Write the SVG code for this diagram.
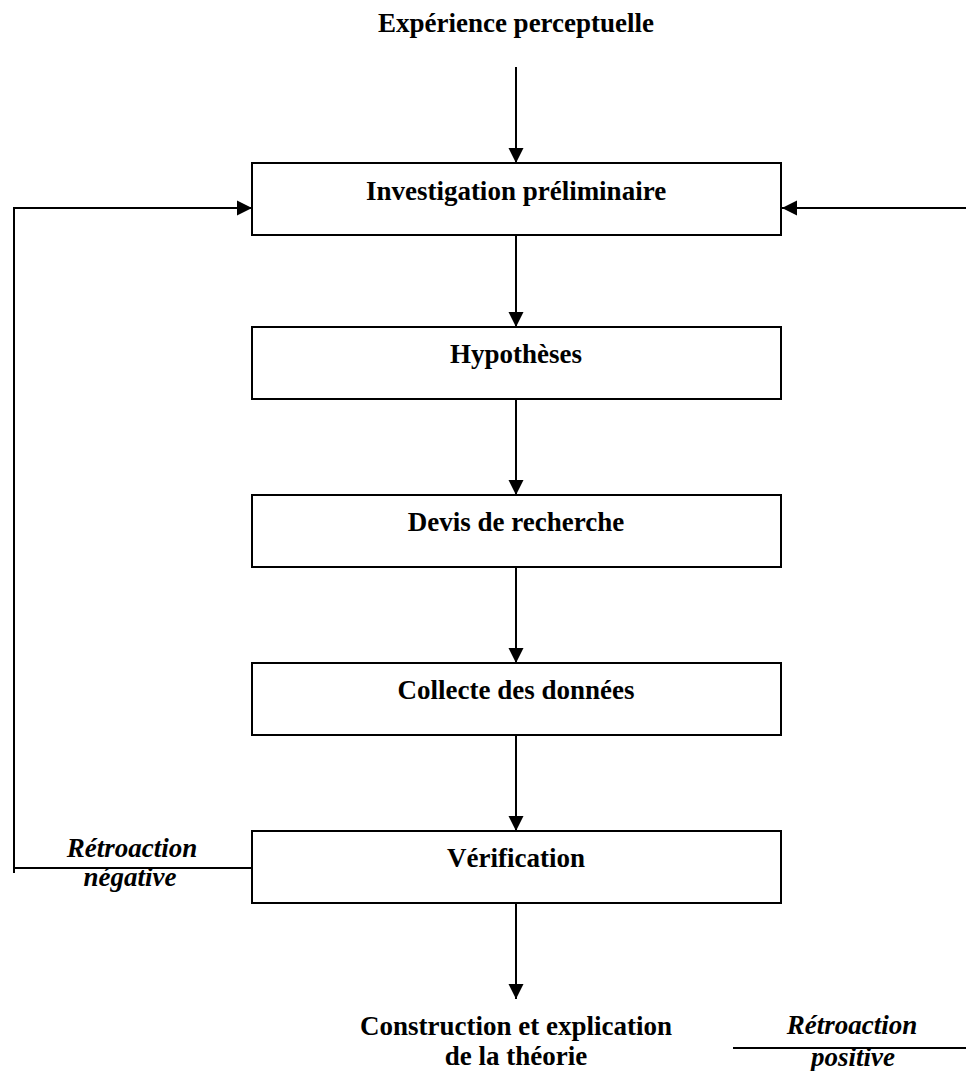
<svg xmlns="http://www.w3.org/2000/svg" width="966" height="1071" viewBox="0 0 966 1071">
<style>
.box{fill:#fff;stroke:#000;stroke-width:2}
.lbl{font-family:"Liberation Serif","Times New Roman",serif;font-weight:bold;font-size:27px;fill:#000;text-anchor:middle}
.it{font-style:italic}
.ln{fill:none;stroke:#000;stroke-width:2}
</style>
<defs>
<marker id="ah" markerUnits="userSpaceOnUse" markerWidth="16" markerHeight="16" refX="15" refY="8" orient="auto">
<path d="M0,0.5 L15,8 L0,15.5 z" fill="#000"/>
</marker>
</defs>
<rect width="966" height="1071" fill="#fff"/>
<g id="connectors">
<line class="ln" x1="516" y1="67" x2="516" y2="163" marker-end="url(#ah)"/>
<line class="ln" x1="516" y1="235" x2="516" y2="327" marker-end="url(#ah)"/>
<line class="ln" x1="516" y1="399" x2="516" y2="495" marker-end="url(#ah)"/>
<line class="ln" x1="516" y1="567" x2="516" y2="663" marker-end="url(#ah)"/>
<line class="ln" x1="516" y1="735" x2="516" y2="831" marker-end="url(#ah)"/>
<line class="ln" x1="516" y1="903" x2="516" y2="999" marker-end="url(#ah)"/>
<polyline class="ln" points="252,868 14,868"/>
<polyline class="ln" points="14,873 14,208 252,208" marker-end="url(#ah)"/>
<line class="ln" x1="966" y1="208" x2="782" y2="208" marker-end="url(#ah)"/>
<line class="ln" x1="733" y1="1048" x2="966" y2="1048"/>
</g>
<g id="top-label">
<text class="lbl" x="516" y="32">Expérience perceptuelle</text>
</g>
<g id="n1">
<rect class="box" x="252" y="163" width="529" height="72"/>
<text class="lbl" x="516" y="200">Investigation préliminaire</text>
</g>
<g id="n2">
<rect class="box" x="252" y="327" width="529" height="72"/>
<text class="lbl" x="516" y="363">Hypothèses</text>
</g>
<g id="n3">
<rect class="box" x="252" y="495" width="529" height="72"/>
<text class="lbl" x="516" y="531">Devis de recherche</text>
</g>
<g id="n4">
<rect class="box" x="252" y="663" width="529" height="72"/>
<text class="lbl" x="516" y="699">Collecte des données</text>
</g>
<g id="n5">
<rect class="box" x="252" y="831" width="529" height="72"/>
<text class="lbl" x="516" y="867">Vérification</text>
</g>
<g id="neg-label">
<text class="lbl it" x="132" y="857">Rétroaction</text>
<text class="lbl it" x="130" y="886">négative</text>
</g>
<g id="bottom-label">
<text class="lbl" x="516" y="1035">Construction et explication</text>
<text class="lbl" x="516" y="1065">de la théorie</text>
</g>
<g id="pos-label">
<text class="lbl it" x="852" y="1034">Rétroaction</text>
<text class="lbl it" x="853" y="1066">positive</text>
</g>
</svg>
